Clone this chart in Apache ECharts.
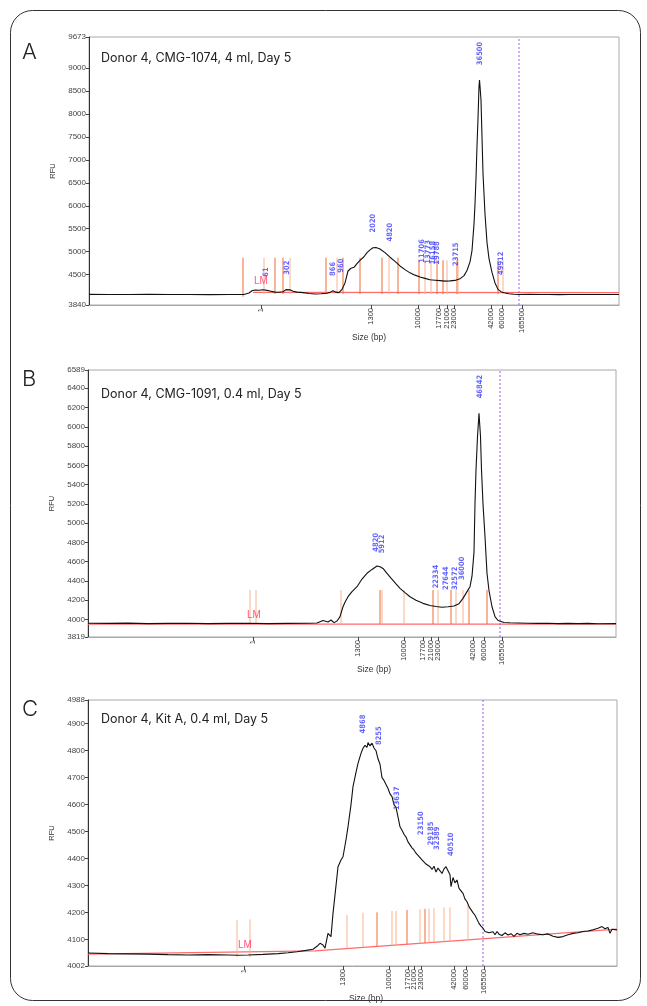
<!DOCTYPE html>
<html>
<head>
<meta charset="utf-8">
<script src="https://cdn.jsdelivr.net/npm/echarts@6/dist/echarts.min.js"></script>
<style>
  html, body { margin: 0; padding: 0; background: #fff; }
  #main { width: 647px; height: 1006px; }
</style>
</head>
<body>
<div id="main"></div>
<script>
// x is the migration position (plot units), labelled with the ladder sizes
var sizeLabels = ['1', '1300', '10000', '17700', '21000', '23000', '42000', '60000', '165500'];
var ticksA = [172, 282, 329, 350, 358, 365, 402, 413, 433];
var ticksB = [165, 270, 316, 335, 343, 350, 385, 396, 414];
var ticksC = [156, 255, 301, 320, 326, 333, 366, 378, 396];
var cutoffA = 430, cutoffB = 412, cutoffC = 395;

var yTicksA = [3840, 4500, 5000, 5500, 6000, 6500, 7000, 7500, 8000, 8500, 9000, 9673];
var yTicksB = [3819, 4000, 4200, 4400, 4600, 4800, 5000, 5200, 5400, 5600, 5800, 6000, 6200, 6400, 6589];
var yTicksC = [4002, 4100, 4200, 4300, 4400, 4500, 4600, 4700, 4800, 4900, 4988];

var titles = ['Donor 4, CMG-1074, 4 ml, Day 5', 'Donor 4, CMG-1091, 0.4 ml, Day 5', 'Donor 4, Kit A, 0.4 ml, Day 5'];

// RFU traces [position, RFU]
var traceA = [[0,4072],[20,4070],[40,4068],[60,4072],[80,4068],[100,4070],[120,4066],[140,4070],[150,4068],[155,4070],
  [160,4100],[163,4150],[166,4165],[170,4160],[174,4172],[178,4158],[182,4140],[186,4120],[190,4118],[194,4130],
  [197,4175],[199,4200],[201,4170],[204,4140],[208,4120],[214,4110],[220,4090],[226,4080],[232,4085],[238,4095],
  [241,4115],[244,4150],[247,4120],[250,4110],[253,4180],[256,4320],[259,4580],[262,4640],[265,4660],[268,4740],
  [271,4810],[275,4890],[278,4980],[281,5040],[284,5085],[287,5090],[291,5060],[296,4980],[301,4880],[306,4790],
  [311,4690],[316,4610],[321,4540],[326,4490],[331,4450],[336,4420],[341,4390],[346,4380],[351,4370],[356,4360],
  [361,4365],[366,4375],[371,4410],[375,4480],[378,4590],[381,4780],[383,5025],[385,5600],[386,6036],[387,6600],
  [388,7300],[389,7900],[390,8600],[390.5,8735],[391,8600],[392,8300],[393,7500],[394,6700],[396,5820],[398,5200],
  [400,4850],[403,4550],[406,4320],[409,4180],[412,4130],[415,4105],[420,4085],[425,4075],[430,4070],[440,4072],
  [450,4068],[460,4070],[470,4066],[480,4070],[490,4068],[500,4070],[510,4068],[530,4070]];

var traceB = [[0,3962],[20,3960],[40,3963],[60,3958],[80,3960],[100,3962],[120,3958],[140,3960],[160,3962],[180,3958],
  [200,3960],[220,3961],[229,3965],[235,3990],[240,3975],[243,3995],[246,3968],[249,3985],[252,4030],[255,4133],
  [257,4180],[260,4237],[264,4290],[269,4341],[274,4420],[279,4480],[284,4520],[289,4555],[292,4548],[295,4530],
  [299,4480],[303,4430],[308,4370],[312,4324],[317,4280],[322,4237],[328,4200],[335,4168],[342,4145],[348,4135],
  [354,4128],[360,4133],[366,4140],[371,4165],[375,4220],[379,4290],[382,4341],[384,4450],[386,4700],[387,5206],
  [388,5551],[389.5,5900],[391,6139],[392.5,5900],[393.5,5551],[395,5200],[397,4859],[399,4480],[401,4300],[404,4133],
  [407,4030],[410,3990],[412,3978],[416,3970],[422,3967],[430,3965],[440,3962],[450,3960],[460,3962],[470,3958],
  [480,3960],[490,3958],[500,3960],[510,3957],[528,3958]];

var traceC = [[0,4050],[20,4048],[40,4047],[60,4046],[80,4044],[100,4043],[120,4044],[140,4043],[150,4042],[160,4043],
  [175,4045],[190,4048],[200,4051],[209,4055],[218,4060],[225,4064],[229,4075],[232,4086],[235,4080],[237,4068],
  [240,4123],[243,4111],[245,4197],[248,4300],[250,4370],[253,4395],[255,4407],[258,4470],[260,4518],[263,4600],
  [265,4667],[268,4720],[270,4753],[273,4790],[275,4809],[277,4820],[279,4812],[280,4830],[282,4818],[284,4828],
  [286,4810],[288,4800],[290,4770],[292,4750],[294,4700],[296,4690],[298,4675],[300,4660],[302,4640],[304,4630],
  [306,4600],[308,4590],[310,4555],[312,4518],[314,4505],[316,4490],[318,4480],[320,4462],[322,4457],[324,4440],
  [326,4432],[328,4420],[330,4412],[332,4407],[334,4395],[336,4400],[338,4380],[340,4375],[342,4370],[344,4360],
  [346,4372],[348,4350],[350,4365],[352,4358],[354,4345],[356,4362],[358,4370],[360,4376],[362,4340],[363,4296],
  [365,4330],[367,4310],[369,4321],[371,4290],[373,4285],[375,4271],[377,4250],[379,4240],[381,4222],[383,4215],
  [385,4200],[387,4190],[389,4185],[391,4160],[393,4150],[395,4142],[397,4130],[399,4135],[401,4125],[403,4132],
  [405,4129],[407,4118],[409,4130],[411,4120],[414,4115],[417,4125],[420,4117],[423,4122],[426,4112],[429,4123],
  [432,4118],[436,4123],[440,4120],[445,4125],[450,4120],[455,4118],[460,4121],[465,4112],[470,4108],[475,4111],
  [480,4118],[485,4123],[490,4125],[495,4130],[500,4132],[505,4136],[510,4142],[514,4148],[517,4140],[520,4145],
  [522,4123],[524,4138],[526,4134],[529,4136]];

// baselines [position, RFU]
var baseA = [[164,4115],[530,4110]];
var baseB = [[0,3952],[528,3952]];
var baseC = [[0,4046],[227,4058],[529,4139]];

// peak markers [position, bottom RFU, top RFU, light(1)/solid(0)]
var marksA = [[154,4020,4870,0],[175,4080,4870,1],[186,4080,4870,0],[194,4080,4870,0],[201,4080,4870,1],
  [237,4080,4870,0],[248,4080,4870,1],[254,4080,4870,0],[271,4080,4870,0],[293,4080,4870,0],[300,4080,4870,1],
  [309,4080,4870,0],[330,4075,4813,0],[336,4075,4813,1],[342,4075,4813,1],[348,4075,4813,0],[354,4075,4813,0],
  [358,4075,4813,1],[368,4075,4813,0],[369,4075,4813,1],[409,4075,4813,0],[414,4075,4813,1]];
var marksB = [[162,3951,4306,1],[168,3951,4306,1],[253,3951,4306,1],[292,3951,4306,0],[294,3951,4306,1],
  [316,3951,4306,1],[345,3951,4306,0],[350,3951,4306,1],[363,3951,4306,0],[368,3951,4306,1],[375,3951,4306,1],
  [381,3951,4306,0],[399,3951,4306,0]];
var marksC = [[149,4035,4172,1],[162,4035,4175,1],[259,4067,4191,1],[275,4071,4200,1],[289,4075,4201,0],
  [304,4079,4206,1],[308,4080,4206,1],[319,4083,4210,0],[332,4086,4212,1],[337,4087,4214,0],[341,4088,4214,1],
  [346,4090,4216,1],[356,4092,4219,1],[362,4094,4219,1],[380,4098,4228,1]];

// peak size labels [position, RFU, text]
var peaksA = [[177,4457,'61'],[198,4500,'302'],[244,4472,'866'],[252,4544,'960'],[284,5418,'2020'],[301,5221,'4820'],
  [333,4762,'11706'],[339,4740,'13773'],[344,4725,'16158'],[348,4718,'19788'],[367,4690,'23715'],[391,9059,'36500'],
  [412,4493,'49912']];
var peaksB = [[288,4704,'4820'],[294,4687,'5912'],[348,4324,'22334'],[358,4306,'27644'],[367,4306,'32572'],
  [374,4410,'36000'],[392,6295,'46842']];
var peaksC = [[275,4864,'4868'],[291,4821,'8255'],[309,4580,'13637'],[333,4488,'23150'],[343,4450,'29185'],
  [349,4432,'32389'],[363,4410,'40510']];

var lmA = [172, 4347], lmB = [166, 4042], lmC = [157, 4080];

var grids = [
  { left: 89, top: 37, width: 530, height: 268 },
  { left: 88, top: 370, width: 528, height: 267 },
  { left: 88, top: 700, width: 529, height: 266 }
];
var panels = [
  { ticks: ticksA, yTicks: yTicksA, trace: traceA, base: baseA, marks: marksA, peaks: peaksA, lm: lmA, cutoff: cutoffA },
  { ticks: ticksB, yTicks: yTicksB, trace: traceB, base: baseB, marks: marksB, peaks: peaksB, lm: lmB, cutoff: cutoffB },
  { ticks: ticksC, yTicks: yTicksC, trace: traceC, base: baseC, marks: marksC, peaks: peaksC, lm: lmC, cutoff: cutoffC }
];

var font = 'Liberation Sans';
var clear = 'rgba(0,0,0,0)';
var xAxes = [], yAxes = [], series = [], graphics = [];

panels.forEach(function (p, i) {
  var g = grids[i];
  g.show = true;
  g.borderColor = '#a8a8a8';
  g.borderWidth = 1;
  g.containLabel = false;
  var yMin = p.yTicks[0], yMax = p.yTicks[p.yTicks.length - 1];

  xAxes.push({
    type: 'value', gridIndex: i, min: 0, max: g.width,
    axisLine: { show: true, lineStyle: { color: '#a8a8a8' } },
    axisTick: { show: true, length: 4, customValues: p.ticks, lineStyle: { color: '#444' } },
    axisLabel: {
      customValues: p.ticks, rotate: 90, fontSize: 7.5, color: '#333', fontFamily: font, margin: 3,
      formatter: function (v) { return sizeLabels[p.ticks.indexOf(v)]; }
    },
    splitLine: { show: false }
  });
  yAxes.push({
    type: 'value', gridIndex: i, min: yMin, max: yMax,
    name: 'RFU', nameLocation: 'middle', nameGap: 29, nameRotate: 90,
    nameTextStyle: { fontSize: 7.5, color: '#333', fontFamily: font },
    axisLine: { show: true, lineStyle: { color: '#333' } },
    axisTick: { show: true, length: 3, customValues: p.yTicks, lineStyle: { color: '#444' } },
    axisLabel: {
      customValues: p.yTicks, fontSize: 8, color: '#444', fontFamily: font, margin: 3,
      formatter: function (v) { return String(v); }
    },
    splitLine: { show: false }
  });

  series.push({
    type: 'line', xAxisIndex: i, yAxisIndex: i, data: p.base, symbol: 'none',
    lineStyle: { color: '#ff6b6b', width: 1.2 }, z: 2
  });
  series.push({
    type: 'custom', xAxisIndex: i, yAxisIndex: i, data: p.marks, z: 3,
    encode: { x: 0, y: [1, 2] },
    renderItem: function (params, api) {
      var a = api.coord([api.value(0), api.value(1)]);
      var b = api.coord([api.value(0), api.value(2)]);
      return {
        type: 'line',
        shape: { x1: a[0], y1: a[1], x2: b[0], y2: b[1] },
        style: { stroke: api.value(3) ? '#f8b394' : '#f26a2e', lineWidth: 1 }
      };
    }
  });
  // size cut-off line
  series.push({
    type: 'line', xAxisIndex: i, yAxisIndex: i, symbol: 'none', z: 3,
    data: [[p.cutoff, yMin], [p.cutoff, yMax]],
    lineStyle: { color: '#a855f7', type: [2, 2], width: 1 }
  });
  series.push({
    type: 'line', xAxisIndex: i, yAxisIndex: i, data: p.trace, symbol: 'none',
    lineStyle: { color: '#111', width: 1.1 }, z: 4
  });
  series.push({
    type: 'scatter', xAxisIndex: i, yAxisIndex: i, symbolSize: 1, itemStyle: { color: clear }, z: 5,
    data: p.peaks.map(function (d) { return { value: [d[0], d[1]], name: d[2] }; }),
    label: {
      show: true, formatter: '{b}', rotate: 90, position: 'inside', align: 'left', verticalAlign: 'middle',
      fontSize: 7.5, color: '#3c3cff', fontFamily: 'DejaVu Sans Condensed', fontWeight: 'bold'
    }
  });
  series.push({
    type: 'scatter', xAxisIndex: i, yAxisIndex: i, symbolSize: 1, itemStyle: { color: clear }, z: 5,
    data: [{ value: p.lm, name: 'LM' }],
    label: { show: true, formatter: '{b}', position: 'inside', fontSize: 10, color: '#ff2a55', fontFamily: font }
  });

  graphics.push({
    type: 'text', left: 101, top: g.top + [15, 18, 13][i],
    style: { text: titles[i], fontSize: 12.5, fill: '#222', fontFamily: 'Inter' }
  });
  graphics.push({
    type: 'text', left: 22, top: [41, 368, 698][i],
    style: { text: ['A', 'B', 'C'][i], fontSize: 22, fill: '#222', fontFamily: 'Inter', fontWeight: 300 }
  });
  graphics.push({
    type: 'text', x: [369, 374, 366][i], y: g.top + g.height + 33,
    style: { text: 'Size (bp)', fontSize: 8.5, fill: '#333', fontFamily: font, textAlign: 'center', textVerticalAlign: 'middle' }
  });
});

graphics.push({
  type: 'rect', shape: { x: 10.5, y: 10.5, width: 630, height: 990, r: 22 },
  style: { fill: 'none', stroke: '#333', lineWidth: 1 }, z: -1
});

var myChart = echarts.init(document.getElementById('main'));
var option = {
  animation: false,
  backgroundColor: '#fff',
  grid: grids,
  xAxis: xAxes,
  yAxis: yAxes,
  series: series,
  graphic: graphics
};
myChart.setOption(option);
</script>
</body>
</html>
